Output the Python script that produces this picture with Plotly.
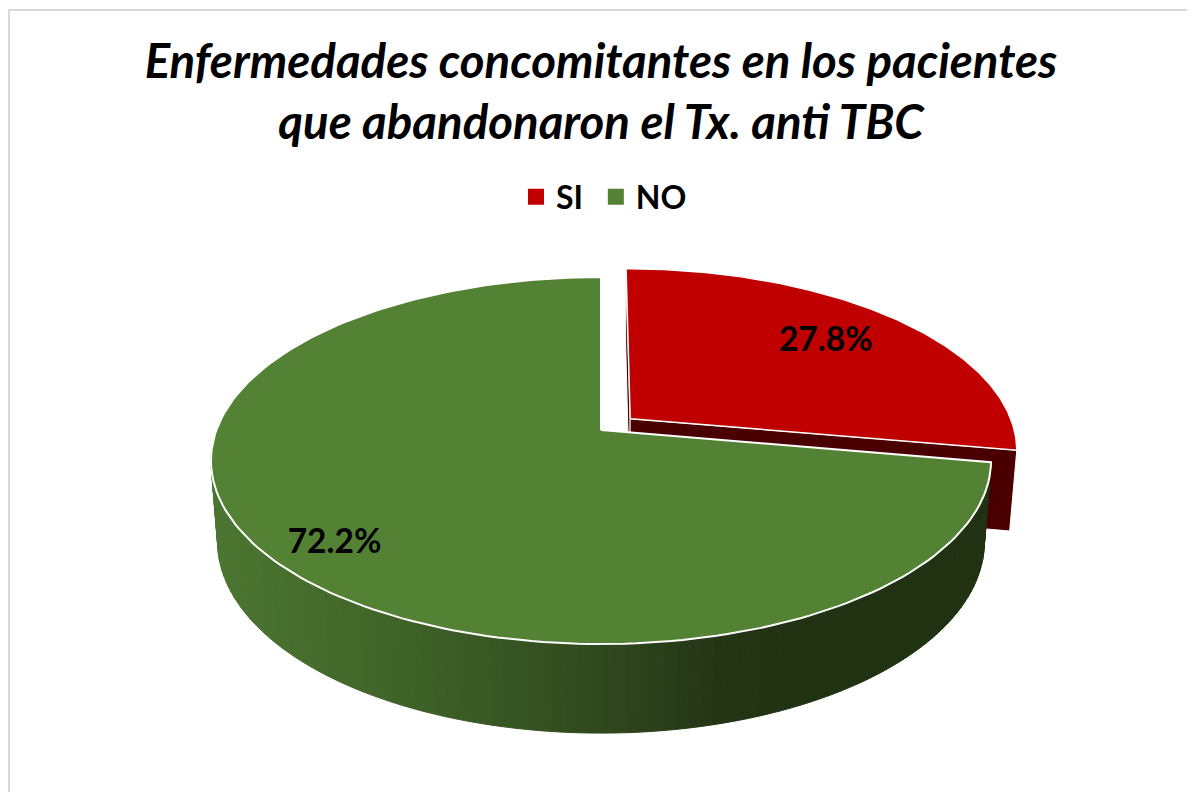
import numpy as np
import plotly.graph_objects as go

labels = ['SI', 'NO']
values = [27.8, 72.2]
slice_colors = ['#C00000', '#548235']
title = 'Enfermedades concomitantes en los pacientes<br>que abandonaron el Tx. anti TBC'

# wall shading of the big slice, left to right across the front
wall_stops = [0, 0.24, 0.5, 0.65, 0.76, 1]
wall_reds = [76, 64, 49, 37, 33, 33]
wall_greens = [118, 100, 73, 54, 50, 50]
wall_blues = [50, 40, 31, 23, 19, 19]

CX = 601
TILT = 0.1663
EXPLODE = 0.1
# the page body adds 8px on the top and left
PAD = 8
W = 1195 - PAD
H = 792 - PAD

def project(theta, r=1.0, shift=0.0, mid=0.0, bottom=False):
    '''Disc position to page pixels, theta in degrees clockwise from the back'''
    t = np.radians(theta)
    m = np.radians(mid)
    px = r*np.sin(t) + shift*np.sin(m)
    pz = r*np.cos(t) + shift*np.cos(m)
    d = 1 + TILT*pz
    if bottom:
        return CX + 378*px/d, 510 - 186*pz/d
    return CX + 384.6*px/d, 430 - 178.4*pz/d

def wedge(start, end, shift=0.0, mid=0.0):
    th = np.linspace(start, end, 180)
    x, y = project(th, shift=shift, mid=mid)
    ax, ay = project(0, r=0, shift=shift, mid=mid)
    return np.r_[ax, x, ax], np.r_[ay, y, ay]

def cut_face(theta, shift, mid):
    x1, y1 = project(0, r=0, shift=shift, mid=mid)
    x2, y2 = project(theta, shift=shift, mid=mid)
    x3, y3 = project(theta, shift=shift, mid=mid, bottom=True)
    x4, y4 = project(0, r=0, shift=shift, mid=mid, bottom=True)
    return [x1, x2, x3, x4, x1], [y1, y2, y3, y4, y1]

def poly(x, y, fill, line=None, width=1):
    return go.Scatter(x=x, y=y, mode='lines', fill='toself', fillcolor=fill,
                      line=dict(color=line or fill, width=width),
                      hoverinfo='skip', showlegend=False)

split = values[0]/sum(values)*360
red_mid = split/2
green_mid = split + (360-split)/2

fig = go.Figure()

# red cut faces first, everything else sits on top of them
for th in [0, split]:
    fx, fy = cut_face(th, EXPLODE, red_mid)
    fig.add_trace(poly(fx, fy, '#4A0000', 'white', 1))

# green wall as narrow strips, so it can carry the gradient
edges = np.linspace(split, 288, 121)
for a, b in zip(edges[:-1], edges[1:]):
    tx, ty = project(np.array([a, b]))
    bx, by = project(np.array([b, a]), bottom=True)
    f = (tx.mean()-211)/780
    col = 'rgb(%d,%d,%d)' % (np.interp(f, wall_stops, wall_reds),
                             np.interp(f, wall_stops, wall_greens),
                             np.interp(f, wall_stops, wall_blues))
    fig.add_trace(poly(np.r_[tx, bx, tx[0]], np.r_[ty, by, ty[0]], col))

rx, ry = wedge(0, split, EXPLODE, red_mid)
fig.add_trace(poly(rx, ry, slice_colors[0], 'white', 1.5))
gx, gy = wedge(split, 360)
fig.add_trace(poly(gx, gy, slice_colors[1], 'white', 2))

# percent labels
lx1, ly1 = project(red_mid, r=0.73, shift=EXPLODE, mid=red_mid)
lx2, ly2 = project(green_mid-3, r=0.855)
fig.add_trace(go.Scatter(x=[lx1, lx2], y=[ly1, ly2], mode='text',
                         text=['%.1f%%' % v for v in values],
                         textfont=dict(family='Lato', size=33.5, color='black', weight=700),
                         hoverinfo='skip', showlegend=False))

# legend entries, the nbsp widens the gap between the two
for lab, col in zip(labels, slice_colors):
    fig.add_trace(go.Scatter(x=[None], y=[None], mode='markers', name=lab + '\u00a0',
                             marker=dict(symbol='square', size=16, color=col)))

fig.update_layout(
    width=W, height=H,
    margin={'t':0, 'b':0, 'l':0, 'r':0},
    plot_bgcolor='white', paper_bgcolor='white',
    title=dict(text=title, x=(601-PAD)/W, xanchor='center', y=1-(77.5-PAD)/H, yanchor='middle',
               font=dict(family='Lato', size=47.4, color='black', weight=700, style='italic')),
    legend=dict(orientation='h', x=(608-PAD)/W, xanchor='center', y=1-(197-PAD)/H, yanchor='middle',
                font=dict(family='Lato', size=32, color='black', weight=700),
                itemwidth=30, bgcolor='rgba(0,0,0,0)'),
    xaxis=dict(range=[PAD, 1195], visible=False, fixedrange=True),
    yaxis=dict(range=[792, PAD], visible=False, fixedrange=True),
    shapes=[dict(type='rect', x0=9, y0=10, x1=1193.5, y1=800, xref='x', yref='y',
                 line=dict(color='#D9D9D9', width=2), layer='below')],
)

fig.write_html("out.html")
